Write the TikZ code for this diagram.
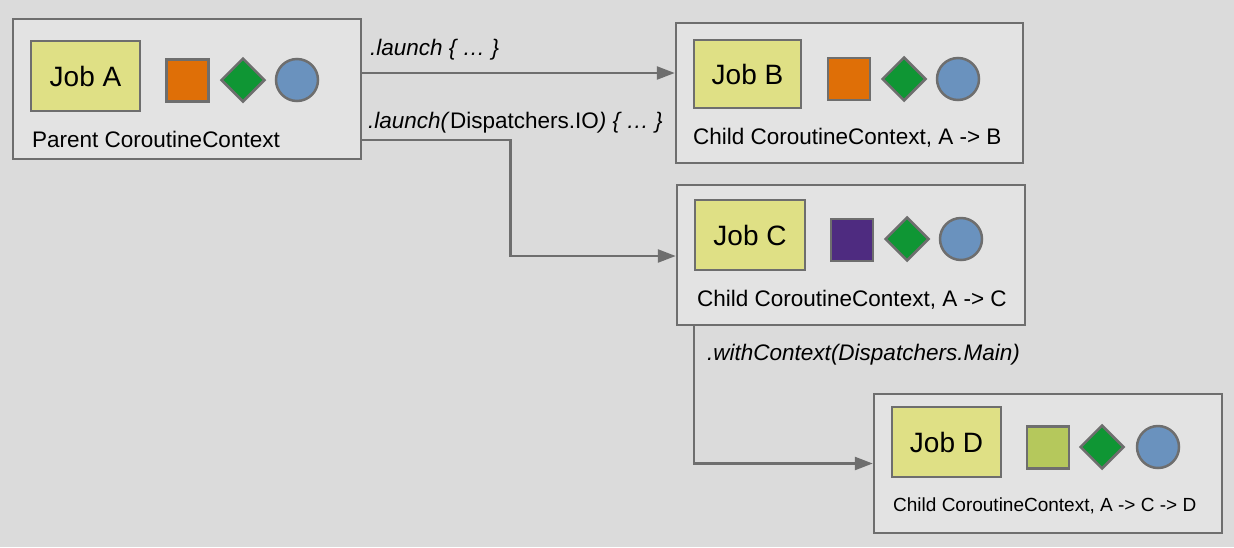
\documentclass[tikz,border=0pt]{standalone}
\usepackage{fontspec}
\setmainfont{Liberation Sans}
\usetikzlibrary{arrows.meta,shapes.geometric}
\definecolor{bg}{HTML}{DBDBDB}
\definecolor{boxfill}{HTML}{E3E3E3}
\definecolor{edge}{HTML}{6E6E6E}
\definecolor{jobfill}{HTML}{DFE085}
\definecolor{orangef}{HTML}{DF6F07}
\definecolor{greenf}{HTML}{0F9634}
\definecolor{bluef}{HTML}{6A92BE}
\definecolor{purplef}{HTML}{4E2B80}
\definecolor{limef}{HTML}{B5C85C}
\begin{document}
\begin{tikzpicture}[x=1pt,y=-1pt,
  ctx/.style={draw=edge,line width=2.5pt,fill=boxfill,rectangle,inner sep=0pt},
  job/.style={draw=edge,line width=2.5pt,fill=jobfill,rectangle,inner sep=0pt,minimum width=109pt,minimum height=70pt,font=\fontsize{28}{32}\selectfont},
  sq/.style={draw=edge,line width=2.5pt,rectangle,inner sep=0pt,minimum size=42pt},
  dia/.style={draw=edge,line width=2.5pt,fill=greenf,diamond,inner sep=0pt,minimum width=44pt,minimum height=44pt},
  circ/.style={draw=edge,line width=2.5pt,fill=bluef,circle,inner sep=0pt,minimum size=42pt},
  ctxlabel/.style={anchor=base west,inner sep=0pt,font=\fontsize{22.5}{26}\selectfont},
  smalllabel/.style={anchor=base west,inner sep=0pt,font=\fontsize{19}{22}\selectfont},
  edgelabel/.style={anchor=base west,inner sep=0pt,font=\fontsize{22.5}{26}\selectfont},
  conn/.style={draw=edge,line width=2.5pt,-{Triangle[length=18pt,width=13pt]}}]
\useasboundingbox[fill=bg] (0,0) rectangle (1234,547);

% Box A
\node[ctx,minimum width=348pt,minimum height=140pt] (A) at (187,89) {};
\node[job] (jA) at (85.5,76) {Job A};
\node[sq,fill=orangef] (sA) at (187.5,80.5) {};
\node[dia] (dA) at (243,80) {};
\node[circ] (cA) at (297,80) {};
\node[ctxlabel] (lA) at (32,147) {Parent CoroutineContext};

% Box B
\node[ctx,minimum width=347pt,minimum height=140pt] (B) at (849.5,93) {};
\node[job,minimum width=107pt,minimum height=68pt] (jB) at (747.5,74) {Job B};
\node[sq,fill=orangef] (sB) at (849,79) {};
\node[dia] (dB) at (904,79) {};
\node[circ] (cB) at (958,79) {};
\node[ctxlabel] (lB) at (693,144) {Child CoroutineContext, A -> B};

% Box C
\node[ctx,minimum width=348pt,minimum height=140pt] (C) at (851,255) {};
\node[job,minimum width=110pt] (jC) at (750,235) {Job C};
\node[sq,fill=purplef] (sC) at (852,240) {};
\node[dia] (dC) at (907,239) {};
\node[circ] (cC) at (961,239) {};
\node[ctxlabel] (lC) at (697,306) {Child CoroutineContext, A -> C};

% Box D
\node[ctx,minimum width=348pt,minimum height=139pt] (D) at (1048,463.5) {};
\node[job] (jD) at (946.5,442) {Job D};
\node[sq,fill=limef] (sD) at (1048,447.5) {};
\node[dia] (dD) at (1102,447) {};
\node[circ] (cD) at (1158,447) {};
\node[smalllabel] (lD) at (893,511) {Child CoroutineContext, A -> C -> D};

% Connectors
\draw[conn] ([yshift=16pt]A.east) -- ([yshift=16pt]A.east -| B.west);
\draw[conn] ([yshift=-51pt]A.east) -- ++(148,0) |- ([yshift=-1pt]C.west);
\draw[conn] ([xshift=18pt]C.south west) |- (D.west);

% Edge labels
\node[edgelabel] (e1) at (370,55) {\textit{.launch \{ … \}}};
\node[edgelabel] (e2) at (368,128) {\textit{.launch(}Dispatchers.IO\textit{) \{ … \}}};
\node[edgelabel] (e3) at (707,360) {\textit{.withContext(Dispatchers.Main)}};
\end{tikzpicture}
\end{document}
